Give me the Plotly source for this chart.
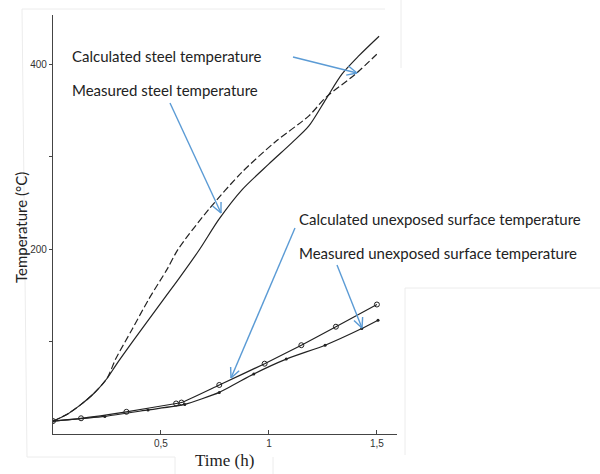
import plotly.graph_objects as go
import math

# ---- data ----
steel_meas_t = [0, 0.07, 0.13, 0.19, 0.25, 0.29, 0.366, 0.444, 0.523, 0.583, 0.68, 0.768, 0.875, 1.0,
                1.107, 1.185, 1.264, 1.338, 1.417, 1.51]
steel_meas_T = [14, 22, 32, 44, 60, 74, 99, 124, 149, 168, 200, 232, 264, 292,
                315, 333, 362, 389, 409, 430]

steel_calc_t = [0, 0.07, 0.13, 0.19, 0.25, 0.29, 0.366, 0.444, 0.528, 0.58, 0.722, 0.875, 1.03,
                1.185, 1.264, 1.40, 1.51]
steel_calc_T = [14, 22, 32, 44, 60, 81, 113, 146, 178, 200, 243, 283, 316,
                344, 364, 389, 413]

surf_calc_t = [0, 0.13, 0.34, 0.57, 0.595, 0.77, 0.98, 1.15, 1.31, 1.5]
surf_calc_T = [14, 17, 24, 33, 34, 53, 76, 96, 116, 140]

surf_meas_t = [0, 0.24, 0.44, 0.61, 0.77, 0.93, 1.08, 1.26, 1.43, 1.505]
surf_meas_T = [14, 19, 26, 32, 45, 65, 81, 96, 114, 123]

x_tickvals = [0.5, 1, 1.5]
x_ticktext = ["0,5", "1", "1,5"]
y_tickvals = [100, 200, 300, 400]
y_ticktext = ["", "200", "", "400"]

labels = [
    "Calculated steel temperature",
    "Measured steel temperature",
    "Calculated unexposed surface temperature",
    "Measured unexposed surface temperature",
]

# ---- layout geometry (pixels) ----
W_PX, H_PX = 600, 474
L, R, T, B = 53, 203, 15, 40
X_RANGE = [0, 1.593]
Y_RANGE = [0, 453]
PW = W_PX - L - R
PH = H_PX - T - B


def to_paper(px, py):
    return (px - L) / PW, (H_PX - B - py) / PH


fig = go.Figure()

fig.add_trace(go.Scatter(x=steel_calc_t, y=steel_calc_T, mode="lines",
                         line=dict(color="#222", width=1.2, dash="7px,3px", shape="spline", smoothing=0.8),
                         hoverinfo="skip", showlegend=False))
fig.add_trace(go.Scatter(x=steel_meas_t, y=steel_meas_T, mode="lines",
                         line=dict(color="#222", width=1.2, shape="spline", smoothing=0.8),
                         hoverinfo="skip", showlegend=False))
fig.add_trace(go.Scatter(x=surf_calc_t, y=surf_calc_T, mode="lines+markers",
                         line=dict(color="#222", width=1.2, shape="spline", smoothing=0.5),
                         marker=dict(symbol="circle-open", size=5, color="#222", line=dict(width=1)),
                         hoverinfo="skip", showlegend=False))
fig.add_trace(go.Scatter(x=surf_meas_t, y=surf_meas_T, mode="lines+markers",
                         line=dict(color="#222", width=1.2, shape="spline", smoothing=0.5),
                         marker=dict(symbol="circle", size=3, color="#222"),
                         hoverinfo="skip", showlegend=False))

shapes = []
annotations = []

# faint scan frame lines
frame = [
    ((22, 9), (385, 9)), ((22, 9), (27, 457)), ((27, 457), (175, 457)),
    ((175, 457), (175, 474)), ((273, 457), (273, 474)),
    ((401, 0), (401, 68)), ((405, 288), (405, 455)), ((405, 288), (600, 288)),
]
for (x0, y0), (x1, y1) in frame:
    a = to_paper(x0, y0)
    b = to_paper(x1, y1)
    shapes.append(dict(type="line", xref="paper", yref="paper", x0=a[0], y0=a[1], x1=b[0], y1=b[1],
                       line=dict(color="#ececec", width=1)))

# text labels (pixel positions of left edge / vertical center)
label_pos = [(70, 56), (70, 90), (297, 219), (297, 253)]
for txt, (px, py) in zip(labels, label_pos):
    xp, yp = to_paper(px, py)
    annotations.append(dict(text=txt, x=xp, y=yp, xref="paper", yref="paper", xanchor="left",
                            yanchor="middle", showarrow=False,
                            font=dict(family="Lato, Open Sans, sans-serif", size=15, color="#222")))

# arrows with open V heads
arrows = [((293, 57), (357, 73)), ((170, 103), (221, 213)), ((295, 228), (231, 378)), ((337, 265), (362, 328))]
for (sx, sy), (ex, ey) in arrows:
    segs = [((sx, sy), (ex, ey))]
    ang = math.atan2(ey - sy, ex - sx)
    hl = 11
    for d in (math.radians(25), -math.radians(25)):
        hx = ex - hl * math.cos(ang + d)
        hy = ey - hl * math.sin(ang + d)
        segs.append(((ex, ey), (hx, hy)))
    for (x0, y0), (x1, y1) in segs:
        a = to_paper(x0, y0)
        b = to_paper(x1, y1)
        shapes.append(dict(type="line", xref="paper", yref="paper", x0=a[0], y0=a[1], x1=b[0], y1=b[1],
                           line=dict(color="#5b9bd5", width=1.4)))

# axis titles
xp, yp = to_paper(21, 228)
annotations.append(dict(text="Temperature (°C)", x=xp, y=yp, xref="paper", yref="paper", textangle=-90,
                        xanchor="center", yanchor="middle",
                        showarrow=False, font=dict(family="Lato, Open Sans, sans-serif", size=15, color="#222")))
xp, yp = to_paper(224, 460)
annotations.append(dict(text="Time (h)", x=xp, y=yp, xref="paper", yref="paper",
                        xanchor="center", yanchor="middle",
                        showarrow=False, font=dict(family="Liberation Serif, serif", size=17, color="#222")))

fig.update_layout(
    width=W_PX, height=H_PX,
    margin=dict(l=L, r=R, t=T, b=B, pad=0),
    paper_bgcolor="white", plot_bgcolor="white",
    shapes=shapes, annotations=annotations,
    xaxis=dict(range=X_RANGE, showgrid=False, zeroline=False, showline=True, linecolor="#444", linewidth=1.2,
               tickmode="array", tickvals=x_tickvals, ticktext=x_ticktext, ticks="inside", ticklen=4,
               tickcolor="#444", tickfont=dict(family="Liberation Sans, sans-serif", size=10, color="#333")),
    yaxis=dict(range=Y_RANGE, showgrid=False, zeroline=False, showline=True, linecolor="#444", linewidth=1.2,
               tickmode="array", tickvals=y_tickvals, ticktext=y_ticktext, ticks="outside", ticklen=3,
               tickcolor="#444", tickfont=dict(family="Liberation Sans, sans-serif", size=10, color="#333")),
)

fig.write_html("out.html")
